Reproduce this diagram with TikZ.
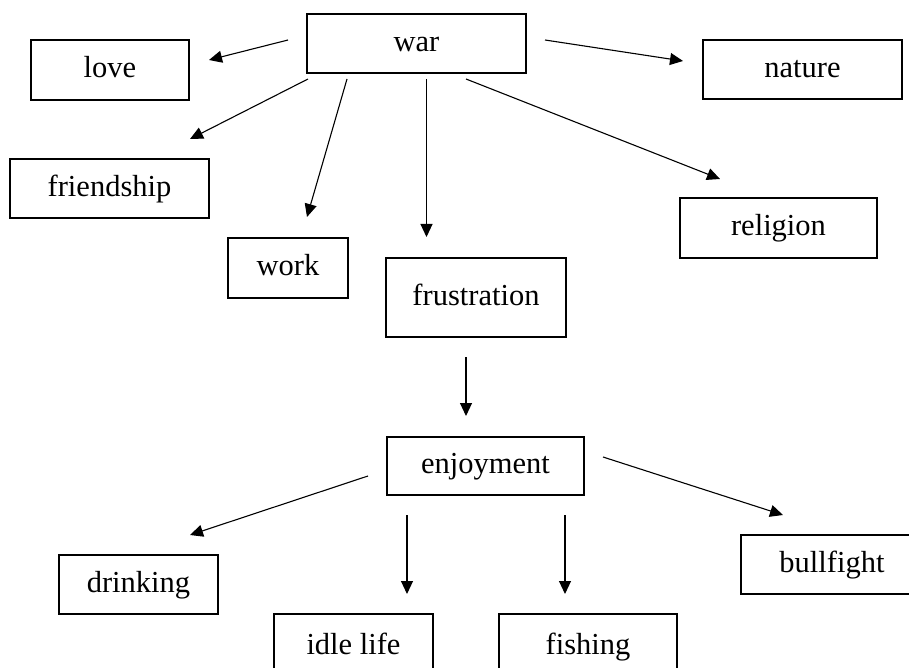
\documentclass[tikz,border=0pt]{standalone}
\usepackage{fontspec}
\setmainfont{Liberation Serif}
\usetikzlibrary{arrows.meta}
\begin{document}
\begin{tikzpicture}[x=1pt,y=-1pt,
  box/.style={draw=black, line width=1.2pt, rectangle, inner sep=0pt,
    font=\fontsize{30.5}{36}\selectfont, text height=15.5pt, text depth=0pt},
  arr/.style={draw=black, line width=1.1pt, -{Triangle[length=13pt,width=12pt]}}]
\useasboundingbox (0,0) rectangle (909,668);
\clip (0,0) rectangle (909,668);
% nodes
\node[box, minimum width=219pt, minimum height=59pt] (war) at (416.5,43.5) {war};
\node[box, minimum width=158pt, minimum height=60pt] (love) at (110,70) {love};
\node[box, minimum width=199pt, minimum height=59pt] (nature) at (802.5,69.5) {nature};
\node[box, minimum width=199pt, minimum height=59pt] (friendship) at (109.5,188.5) {friendship};
\node[box, minimum width=120pt, minimum height=60pt] (work) at (288,268) {work};
\node[box, minimum width=180pt, minimum height=79pt] (frustration) at (476,297.5) {frustration};
\node[box, minimum width=197pt, minimum height=60pt] (religion) at (778.5,228) {religion};
\node[box, minimum width=197pt, minimum height=58pt] (enjoyment) at (485.5,466) {enjoyment};
\node[box, minimum width=159pt, minimum height=59pt] (drinking) at (138.5,584.5) {drinking};
\node[box, minimum width=159pt, minimum height=66pt] (idle) at (353.5,647) {idle life};
\node[box, minimum width=178pt, minimum height=66pt] (fishing) at (588,647) {fishing};
\node[box, minimum width=182pt, minimum height=59pt] (bullfight) at (832,564.5) {bullfight};
% connector end points (arrows stand free of the boxes)
\coordinate (war-love-a) at (288,40);
\coordinate (war-love-b) at (209,60);
\coordinate (war-nature-a) at (545,40);
\coordinate (war-nature-b) at (683,61);
\coordinate (war-friend-a) at (308,79);
\coordinate (war-friend-b) at (190,139);
\coordinate (war-work-a) at (347,79);
\coordinate (war-work-b) at (307,217);
\coordinate (war-frus-a) at (426.5,79);
\coordinate (war-frus-b) at (426.5,237);
\coordinate (war-rel-a) at (466,79);
\coordinate (war-rel-b) at (720,179);
\coordinate (frus-enj-a) at (466,357);
\coordinate (frus-enj-b) at (466,416);
\coordinate (enj-drink-a) at (368,476);
\coordinate (enj-drink-b) at (190,535);
\coordinate (enj-idle-a) at (407,515);
\coordinate (enj-idle-b) at (407,594);
\coordinate (enj-fish-a) at (565,515);
\coordinate (enj-fish-b) at (565,594);
\coordinate (enj-bull-a) at (603,457);
\coordinate (enj-bull-b) at (783,515);
% connectors
\draw[arr] (war-love-a) -- (war-love-b);
\draw[arr] (war-nature-a) -- (war-nature-b);
\draw[arr] (war-friend-a) -- (war-friend-b);
\draw[arr] (war-work-a) -- (war-work-b);
\draw[arr] (war-frus-a) -- (war-frus-b);
\draw[arr] (war-rel-a) -- (war-rel-b);
\draw[arr] (frus-enj-a) -- (frus-enj-b);
\draw[arr] (enj-drink-a) -- (enj-drink-b);
\draw[arr] (enj-idle-a) -- (enj-idle-b);
\draw[arr] (enj-fish-a) -- (enj-fish-b);
\draw[arr] (enj-bull-a) -- (enj-bull-b);
\end{tikzpicture}
\end{document}
